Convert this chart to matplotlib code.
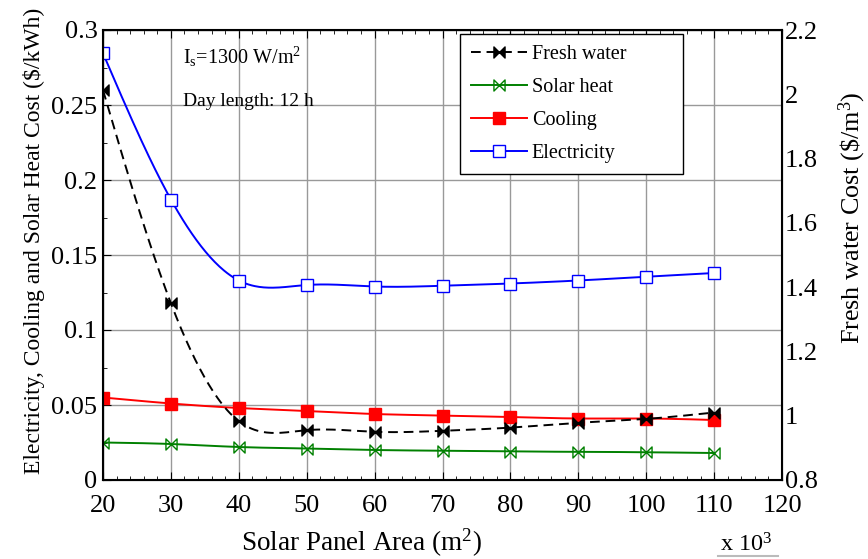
import numpy as np
import matplotlib.pyplot as plt
from matplotlib.path import Path
from matplotlib.ticker import MultipleLocator

plt.rcParams['font.family'] = ['Liberation Serif', 'DejaVu Serif']
plt.rcParams['mathtext.fontset'] = 'custom'
plt.rcParams['mathtext.rm'] = 'Liberation Serif'
plt.rcParams['mathtext.it'] = 'Liberation Serif:italic'
plt.rcParams['mathtext.bf'] = 'Liberation Serif:bold'

area = [20, 30, 40, 50, 60, 70, 80, 90, 100, 110]
electricity = [0.2845, 0.187, 0.133, 0.130, 0.129, 0.1295, 0.131, 0.133, 0.1355, 0.138]
cooling = [0.055, 0.051, 0.048, 0.046, 0.044, 0.043, 0.042, 0.041, 0.041, 0.040]
solar_heat = [0.025, 0.024, 0.022, 0.021, 0.020, 0.0195, 0.019, 0.0188, 0.0185, 0.018]
fresh_water = [2.013, 1.35, 0.983, 0.955, 0.950, 0.953, 0.963, 0.978, 0.99, 1.01]


def spline(x, y, n=400):
    # natural cubic spline through the points, for the smooth curves
    x = np.asarray(x, float)
    y = np.asarray(y, float)
    h = np.diff(x)
    m = len(x)
    A = np.zeros((m, m))
    b = np.zeros(m)
    A[0, 0] = A[-1, -1] = 1
    for i in range(1, m - 1):
        A[i, i - 1] = h[i - 1]
        A[i, i] = 2 * (h[i - 1] + h[i])
        A[i, i + 1] = h[i]
        b[i] = 6 * ((y[i + 1] - y[i]) / h[i] - (y[i] - y[i - 1]) / h[i - 1])
    M = np.linalg.solve(A, b)
    xs = np.linspace(x[0], x[-1], n)
    k = np.clip(np.searchsorted(x, xs) - 1, 0, m - 2)
    t0 = x[k + 1] - xs
    t1 = xs - x[k]
    hk = h[k]
    ys = (M[k] * t0**3 + M[k + 1] * t1**3) / (6 * hk) \
        + (y[k] / hk - M[k] * hk / 6) * t0 + (y[k + 1] / hk - M[k + 1] * hk / 6) * t1
    return xs, ys


# bowtie marker: two triangles pointing at each other
bowtie = Path([(-1, -1), (0, 0), (-1, 1), (-1, -1), (1, -1), (0, 0), (1, 1), (1, -1)],
              [Path.MOVETO, Path.LINETO, Path.LINETO, Path.CLOSEPOLY] * 2)

W, H = 868, 559
fig = plt.figure(figsize=(W / 100, H / 100), dpi=100)
ax = fig.add_axes([103 / W, 1 - 480 / H, 679 / W, 450 / H])
ax2 = ax.twinx()

dash = (0, (5, 3))
series = [
    (ax2, fresh_water, "black", dash, bowtie, "black", "Fresh water"),
    (ax, solar_heat, "green", "-", bowtie, "none", "Solar heat"),
    (ax, cooling, "red", "-", "s", "red", "Cooling"),
    (ax, electricity, "blue", "-", "s", "white", "Electricity"),
]
handles = []
for a, vals, col, ls, mk, mfc, lab in series:
    xs, ys = spline(area, vals)
    a.plot(xs, ys, color=col, ls=ls, lw=1.4)
    a.plot(area, vals, ls="none", marker=mk, ms=8, mfc=mfc, mec=col, mew=1.0)
    handles.append(plt.Line2D([], [], color=col, ls=ls, lw=1.4, marker=mk, ms=8,
                              mfc=mfc, mec=col, mew=1.0, label=lab))

ax.set_xlim(20, 120)
ax.set_ylim(0, 0.3)
ax2.set_ylim(0.8, 2.2)
ax.xaxis.set_major_locator(MultipleLocator(10))
ax.xaxis.set_minor_locator(MultipleLocator(2))
ax.yaxis.set_minor_locator(MultipleLocator(0.025))
ax.set_yticks(np.arange(0, 0.31, 0.05))
ax.set_yticklabels(["0", "0.05", "0.1", "0.15", "0.2", "0.25", "0.3"])
ax2.set_yticks(np.arange(0.8, 2.21, 0.2))
ax2.set_yticklabels(["0.8", "1", "1.2", "1.4", "1.6", "1.8", "2", "2.2"])

fs_tick = 19
ax.tick_params(which="both", direction="in", top=True, labelsize=fs_tick)
ax.tick_params(axis="x", pad=11)
ax.tick_params(axis="y", pad=4)
ax.tick_params(which="major", length=6)
ax.tick_params(which="minor", length=3)
ax2.tick_params(which="both", direction="in", length=0, labelsize=fs_tick, pad=2)
ax.grid(True, which="major", color="#999999", lw=1.0)
ax.set_axisbelow(True)
for s in ax.spines.values():
    s.set_linewidth(1.5)

ax.set_xlabel("Solar Panel Area (m$^2$)", fontsize=19.5)
ax.xaxis.set_label_coords(0.381, -0.104)
ax.set_ylabel("Electricity, Cooling and Solar Heat Cost (\\$/kWh)", fontsize=17)
ax.yaxis.set_label_coords(-0.085, 0.531)
ax2.set_ylabel("Fresh water Cost (\\$/m$^3$)", fontsize=18.8)
ax2.yaxis.set_label_coords(1.08, 0.582)

ax.text(0.908, -0.145, "x 10$^3$", transform=ax.transAxes, fontsize=17.5,
        va="center", ha="left")
fig.add_artist(plt.Line2D([718 / W, 778 / W], [1 - 556 / H] * 2, color="#bbbbbb", lw=1.5))
ax.text(0.118, 0.94, "I$_\\mathrm{s}$=1300 W/m$^2$", transform=ax.transAxes,
        fontsize=14.5, va="center")
ax.text(0.118, 0.84, "Day length: 12 h", transform=ax.transAxes, fontsize=14,
        va="center")

leg = ax.legend(handles=handles, loc="upper left", mode="expand",
                bbox_to_anchor=(0.526, 0.991, 0.328, 0), borderaxespad=0,
                fontsize=14.5, frameon=True, fancybox=False, edgecolor="black",
                framealpha=1, labelspacing=0.68, handlelength=2.75,
                handletextpad=0.25, borderpad=0.55)
leg.get_frame().set_linewidth(1.0)
leg.set_zorder(10)

fig.savefig("out.png", dpi=100)
